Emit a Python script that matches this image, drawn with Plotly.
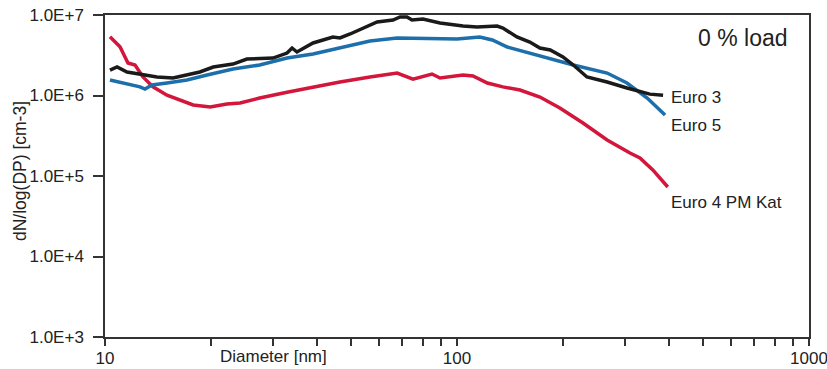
import plotly.graph_objects as go

# Euro 3 (black)
e3_x = [10.33, 10.82, 11.55, 12.82, 14.05, 15.6, 17.1, 18.6, 20.3, 23.1, 25.3, 28.8, 30.0, 32.9, 34.0, 35.1,
        39.0, 44.4, 46.5, 49.7, 54.1, 59.3, 65.8, 68.9, 72.1, 74.5, 80.0, 89.5, 104, 114, 130, 135, 148, 161,
        172, 184, 200, 214, 234, 267, 304, 353, 385]
e3_y = [2.07e6, 2.26e6, 1.96e6, 1.80e6, 1.70e6, 1.65e6, 1.80e6, 1.96e6, 2.26e6, 2.46e6, 2.84e6, 2.92e6, 2.92e6,
        3.37e6, 3.89e6, 3.47e6, 4.49e6, 5.33e6, 5.18e6, 5.81e6, 6.90e6, 8.18e6, 8.67e6, 9.45e6, 9.45e6, 8.67e6,
        8.92e6, 7.96e6, 7.29e6, 7.10e6, 7.29e6, 6.90e6, 5.33e6, 4.62e6, 3.89e6, 3.67e6, 3.01e6, 2.39e6, 1.70e6,
        1.47e6, 1.24e6, 1.04e6, 1.01e6]

# Euro 5 (blue)
e5_x = [10.33, 11.55, 12.57, 12.99, 13.60, 15.0, 17.1, 19.5, 23.1, 27.5, 32.9, 39.0, 46.5, 49.7, 56.6, 67.6,
        83.8, 100, 116, 126, 139, 161, 184, 214, 267, 304, 347, 390]
e5_y = [1.56e6, 1.39e6, 1.28e6, 1.20e6, 1.35e6, 1.43e6, 1.56e6, 1.80e6, 2.13e6, 2.39e6, 2.92e6, 3.28e6, 3.89e6,
        4.12e6, 4.75e6, 5.18e6, 5.03e6, 5.03e6, 5.33e6, 4.89e6, 4.00e6, 3.37e6, 2.92e6, 2.39e6, 1.90e6, 1.43e6,
        9.31e5, 5.72e5]

# Euro 4 PM Kat (red)
e4_x = [10.33, 11.03, 11.62, 12.17, 12.82, 13.69, 15.0, 16.3, 17.8, 19.9, 22.2, 24.2, 27.5, 32.9, 39.0, 46.5,
        56.6, 67.6, 75.0, 82.2, 84.9, 89.5, 104, 111, 122, 135, 151, 172, 196, 228, 267, 310, 331, 360, 397]
e4_y = [5.37e6, 4.04e6, 2.53e6, 2.39e6, 1.70e6, 1.28e6, 1.01e6, 8.79e5, 7.62e5, 7.19e5, 7.84e5, 8.07e5, 9.31e5,
        1.10e6, 1.28e6, 1.47e6, 1.70e6, 1.90e6, 1.60e6, 1.75e6, 1.85e6, 1.65e6, 1.80e6, 1.75e6, 1.43e6, 1.28e6,
        1.17e6, 9.58e5, 7.00e5, 4.55e5, 2.80e5, 1.93e5, 1.68e5, 1.19e5, 7.30e4]

x_tickvals = [10, 20, 30, 40, 50, 60, 70, 80, 90, 100, 200, 300, 400, 500, 600, 700, 800, 900, 1000]
x_ticktext = ["10", "", "", "", "", "", "", "", "", "100", "", "", "", "", "", "", "", "", "1000"]
y_tickvals = [1e3, 1e4, 1e5, 1e6, 1e7]
y_ticktext = ["1.0E+3", "1.0E+4", "1.0E+5", "1.0E+6", "1.0E+7"]

FONT = "Liberation Sans, Arial, sans-serif"

fig = go.Figure()
fig.add_trace(go.Scatter(x=e4_x, y=e4_y, mode="lines", line=dict(color="#d3163b", width=3.5), name="Euro 4 PM Kat"))
fig.add_trace(go.Scatter(x=e5_x, y=e5_y, mode="lines", line=dict(color="#1c6fab", width=3.5), name="Euro 5"))
fig.add_trace(go.Scatter(x=e3_x, y=e3_y, mode="lines", line=dict(color="#1a1a1a", width=3.5), name="Euro 3"))

fig.update_layout(
    width=827, height=369,
    margin=dict(l=105, r=18, t=15, b=32, autoexpand=False),
    paper_bgcolor="white", plot_bgcolor="white",
    showlegend=False,
    font=dict(family=FONT, size=17, color="#222"),
    xaxis=dict(type="log", range=[1, 3], tickvals=x_tickvals, ticktext=x_ticktext,
               ticks="outside", ticklen=7, tickwidth=1.5, tickcolor="#333",
               showline=True, linecolor="#333", linewidth=1.5, mirror=True,
               showgrid=False, zeroline=False, ticklabelstandoff=-2, automargin=False,
               ticklabeloverflow="allow"),
    yaxis=dict(type="log", range=[3, 7], tickvals=y_tickvals, ticktext=y_ticktext,
               ticks="outside", ticklen=10, tickwidth=1.5, tickcolor="#333",
               showline=True, linecolor="#333", linewidth=1.5, mirror=True,
               showgrid=False, zeroline=False, ticklabelstandoff=6, automargin=False,
               ticklabeloverflow="allow"),
)

ann = [
    dict(text="0 % load", x=0.973, y=0.929, xanchor="right", yanchor="middle", font=dict(size=23)),
    dict(text="Euro 3", x=0.801, y=0.745, xanchor="left", yanchor="middle", font=dict(size=17)),
    dict(text="Euro 5", x=0.801, y=0.658, xanchor="left", yanchor="middle", font=dict(size=17)),
    dict(text="Euro 4 PM Kat", x=0.801, y=0.419, xanchor="left", yanchor="middle", font=dict(size=17)),
    dict(text="Diameter [nm]", x=0.239, y=-0.062, xanchor="center", yanchor="middle", font=dict(size=17)),
    dict(text="dN/log(DP) [cm-3]", x=-0.1207, y=0.5155, xanchor="center", yanchor="middle", textangle=-90,
         font=dict(size=17.5)),
]
for a in ann:
    fig.add_annotation(xref="paper", yref="paper", showarrow=False, **a)

fig.write_html("out.html")
